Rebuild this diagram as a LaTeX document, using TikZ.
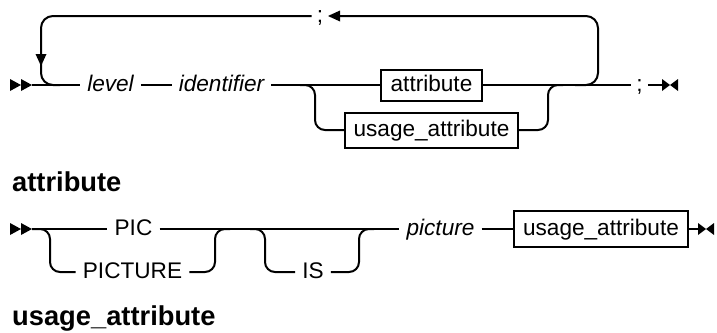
\documentclass[tikz,border=0pt]{standalone}
\usepackage{fontspec}
\setmainfont{Liberation Sans}
\tikzset{
  startmk/.pic={\fill (-22,-6) -- (-11,0) -- (-22,6) -- cycle (-11,-6) -- (0,0) -- (-11,6) -- cycle;},
  endmk/.pic={\fill (0,-6) -- (8,0) -- (0,6) -- cycle (16,-6) -- (8,0) -- (16,6) -- cycle;},
}
\begin{document}
\begin{tikzpicture}[x=1pt,y=-1pt,
  every node/.style={font=\fontsize{22.6}{25}\selectfont},
  txt/.style={inner xsep=7pt, inner ysep=0pt, text height=12.5pt, text depth=0pt},
  it/.style={txt, font=\fontsize{22.6}{25}\selectfont\itshape},
  box/.style={draw, line width=2pt, inner xsep=0pt, inner ysep=0pt, text height=12.5pt, text depth=0pt, minimum height=33pt},
  head/.style={font=\fontsize{27.3}{30}\selectfont\bfseries, inner sep=0pt, anchor=base west},
  ln/.style={line width=2pt},
  rc/.style={ln, rounded corners=10pt},
  rcl/.style={ln, rounded corners=12pt},
]
\useasboundingbox (0,0) rectangle (717,332);

% ---------- diagram 1 ----------
\coordinate (s1) at (32,85);
\coordinate (e1) at (662,85);
\node[it] (lvl) at (110.5,85) {level};
\node[it] (idf) at (221.5,85) {identifier};
\node[box, minimum width=101pt, minimum height=31pt] (at1) at (431.5,85) {attribute};
\node[box, minimum width=173pt, minimum height=35pt] (ua1) at (431.5,130) {usage\_attribute};
\node[txt, inner xsep=5pt] (sc1) at (639.5,85) {;};
\node[txt, inner xsep=5pt] (sc0) at (320,16) {;};
\coordinate (j1a) at (300,85);
\coordinate (j1b) at (563,85);
\coordinate (l1a) at (60,85);
\coordinate (l1b) at (575,85);
\coordinate (tip0) at (340,16);

\pic at (s1) {startmk};
\draw[ln] (s1) -- (lvl.west);
\draw[ln] (lvl.east) -- (idf.west);
\draw[ln] (idf.east) -- (at1.west);
\draw[ln] (at1.east) -- (sc1.west);
\draw[ln] (sc1.east) -- (e1);
\pic at (e1) {endmk};

\draw[rc] (j1a) -- (315,85) -- (315,130) -- (ua1.west);
\draw[rc] (ua1.east) -- (548,130) -- (548,85) -- (j1b);

% repeat loop
\draw[rcl] (l1b) -- (598,85) -- (598,16) -- (tip0);
\fill (tip0) ++(0,-5.5) -- (328,16) -- ++(12,5.5) -- cycle;
\draw[rcl] (sc0.west) -- (41,16) -- (41,85) -- (l1a);
\fill (35.5,54) -- (46.5,54) -- (41,66) -- cycle;

% ---------- headings ----------
\node[head] (h1) at (12,191) {attribute};
\node[head] (h2) at (12,325) {usage\_attribute};

% ---------- diagram 2 ----------
\coordinate (s2) at (32,229);
\coordinate (e2) at (698,229);
\node[txt] (pic) at (133.5,229) {PIC};
\node[txt] (pict) at (132.5,272) {PICTURE};
\node[txt] (is) at (313,272) {IS};
\node[it] (pictr) at (440.5,229) {picture};
\node[box, minimum width=174pt, minimum height=36pt] (ua2) at (601,229) {usage\_attribute};
\coordinate (j2b) at (230,229);
\coordinate (j2c) at (250,229);
\coordinate (j2d) at (374,229);

\pic at (s2) {startmk};
\draw[ln] (s2) -- (pic.west);
\draw[ln] (pic.east) -- (pictr.west);
\draw[ln] (pictr.east) -- (ua2.west);
\draw[ln] (ua2.east) -- (e2);
\pic at (e2) {endmk};

\draw[rc] (s2) -- (50,229) -- (50,272) -- (pict.west);
\draw[rc] (pict.east) -- (215,272) -- (215,229) -- (j2b);
\draw[rc] (j2c) -- (265,229) -- (265,272) -- (is.west);
\draw[rc] (is.east) -- (359,272) -- (359,229) -- (j2d);
\end{tikzpicture}
\end{document}
